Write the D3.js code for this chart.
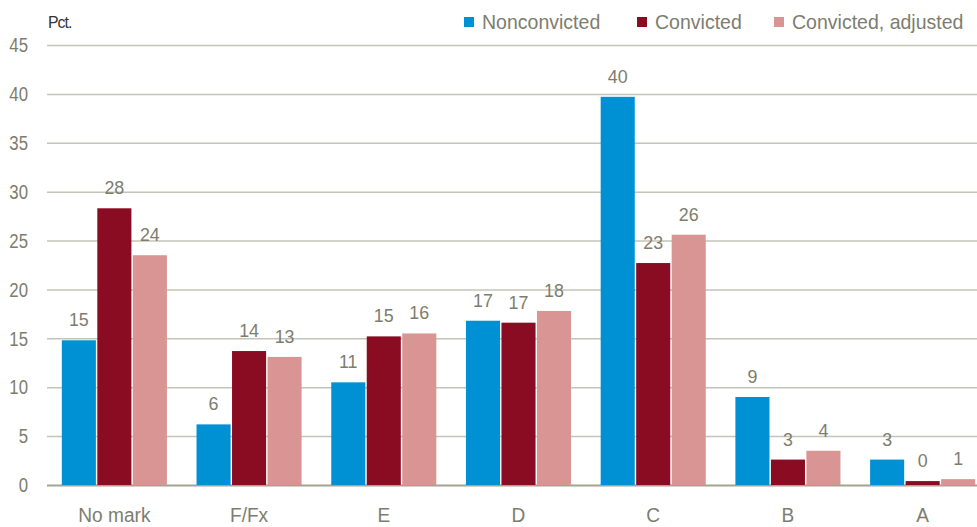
<!DOCTYPE html>
<html>
<head>
<meta charset="utf-8">
<script src="https://cdn.jsdelivr.net/npm/d3@7"></script>
<style>
  body { margin: 0; background: #fff; }
  svg text {
    font-family: "Liberation Sans", Arial, sans-serif;
    transform-box: fill-box;
  }
  .narrow-mid { transform: scaleX(0.91); transform-origin: center; }
  .value-label { transform: scaleX(0.94); transform-origin: center; }
  .narrow-end { transform: scaleX(0.8); transform-origin: right center; }
  .narrow-start { transform: scaleX(0.93); transform-origin: left center; }
</style>
</head>
<body>
<svg id="chart" width="977" height="527"></svg>
<script>
// chart data
var categories = ["No mark", "F/Fx", "E", "D", "C", "B", "A"];
var seriesNames = ["Nonconvicted", "Convicted", "Convicted, adjusted"];
var nonconvicted = [14.8, 6.2, 10.5, 16.8, 39.7, 9.0, 2.6];
var convicted = [28.3, 13.7, 15.2, 16.6, 22.7, 2.6, 0.4];
var convictedAdjusted = [23.5, 13.1, 15.5, 17.8, 25.6, 3.5, 0.6];
var yTicks = [0, 5, 10, 15, 20, 25, 30, 35, 40, 45];

var COLORS = ["#0091d5", "#8a0c22", "#d99594"];
var TEXT_GRAY = "#7d7d6e";

var svg = d3.select("#chart");
var margin = {top: 45, left: 47, bottom: 42};
var gridWidth = 977 - margin.left;
var plotWidth = 943; // the category bands run slightly past the right edge
var height = 527 - margin.top - margin.bottom;

var g = svg.append("g")
    .attr("transform", "translate(" + margin.left + "," + margin.top + ")");

var x0 = d3.scaleBand()
    .domain(categories)
    .range([0, plotWidth])
    .paddingInner(0.22)
    .paddingOuter(0.11);

var x1 = d3.scaleBand()
    .domain(seriesNames)
    .range([0, x0.bandwidth()])
    .paddingInner(0.04);

var y = d3.scaleLinear()
    .domain([0, 45])
    .range([height, 0]);

// gridlines + tick labels
var yAxis = d3.axisLeft(y)
    .tickValues(yTicks)
    .tickSize(-gridWidth)
    .tickPadding(19);

g.append("g")
    .attr("class", "y-axis")
    .call(yAxis)
    .call(function(sel) {
        sel.select(".domain").remove();
        sel.selectAll(".tick line")
            .attr("stroke", function(d) { return d === 0 ? "#a3a394" : "#c4c4b8"; })
            .attr("stroke-width", function(d) { return d === 0 ? 2 : 1.5; });
        sel.selectAll(".tick text")
            .attr("class", "narrow-end")
            .attr("fill", TEXT_GRAY)
            .style("font-size", "21px");
    });

var rows = categories.map(function(c, i) {
    return {
        category: c,
        values: [nonconvicted[i], convicted[i], convictedAdjusted[i]]
    };
});

var groups = g.selectAll(".group")
    .data(rows)
    .enter().append("g")
    .attr("class", "group")
    .attr("transform", function(d) { return "translate(" + x0(d.category) + ",0)"; });

var cells = groups.selectAll(".cell")
    .data(function(d) {
        return d.values.map(function(v, i) { return {series: seriesNames[i], value: v, idx: i}; });
    })
    .enter();

cells.append("rect")
    .attr("x", function(d) { return x1(d.series); })
    .attr("y", function(d) { return y(d.value); })
    .attr("width", x1.bandwidth())
    .attr("height", function(d) { return height - y(d.value); })
    .attr("fill", function(d) { return COLORS[d.idx]; });

cells.append("text")
    .attr("class", "value-label")
    .attr("x", function(d) { return x1(d.series) + x1.bandwidth() / 2; })
    .attr("y", function(d) { return y(d.value) - 14; })
    .attr("text-anchor", "middle")
    .attr("fill", TEXT_GRAY)
    .style("font-size", "19px")
    .text(function(d) { return Math.round(d.value); });

// category labels
g.selectAll(".cat-label")
    .data(categories)
    .enter().append("text")
    .attr("class", "cat-label narrow-mid")
    .attr("x", function(d) { return x0(d) + x0.bandwidth() / 2; })
    .attr("y", height + 37)
    .attr("text-anchor", "middle")
    .attr("fill", TEXT_GRAY)
    .style("font-size", "21px")
    .text(function(d) { return d; });

// unit label
svg.append("text")
    .attr("class", "narrow-start")
    .attr("x", 48)
    .attr("y", 28)
    .attr("fill", "#333")
    .style("font-size", "17px")
    .style("letter-spacing", "-1px")
    .text("Pct.");

// legend
var legendX = [464, 637, 774];
var legend = svg.selectAll(".legend")
    .data(seriesNames)
    .enter().append("g")
    .attr("class", "legend")
    .attr("transform", function(d, i) { return "translate(" + legendX[i] + ",0)"; });

legend.append("rect")
    .attr("x", 0)
    .attr("y", 17)
    .attr("width", 10)
    .attr("height", 10)
    .attr("fill", function(d, i) { return COLORS[i]; });

legend.append("text")
    .attr("class", "narrow-start")
    .attr("x", 18)
    .attr("y", 29)
    .attr("fill", TEXT_GRAY)
    .style("font-size", "21px")
    .text(function(d) { return d; });
</script>
</body>
</html>
